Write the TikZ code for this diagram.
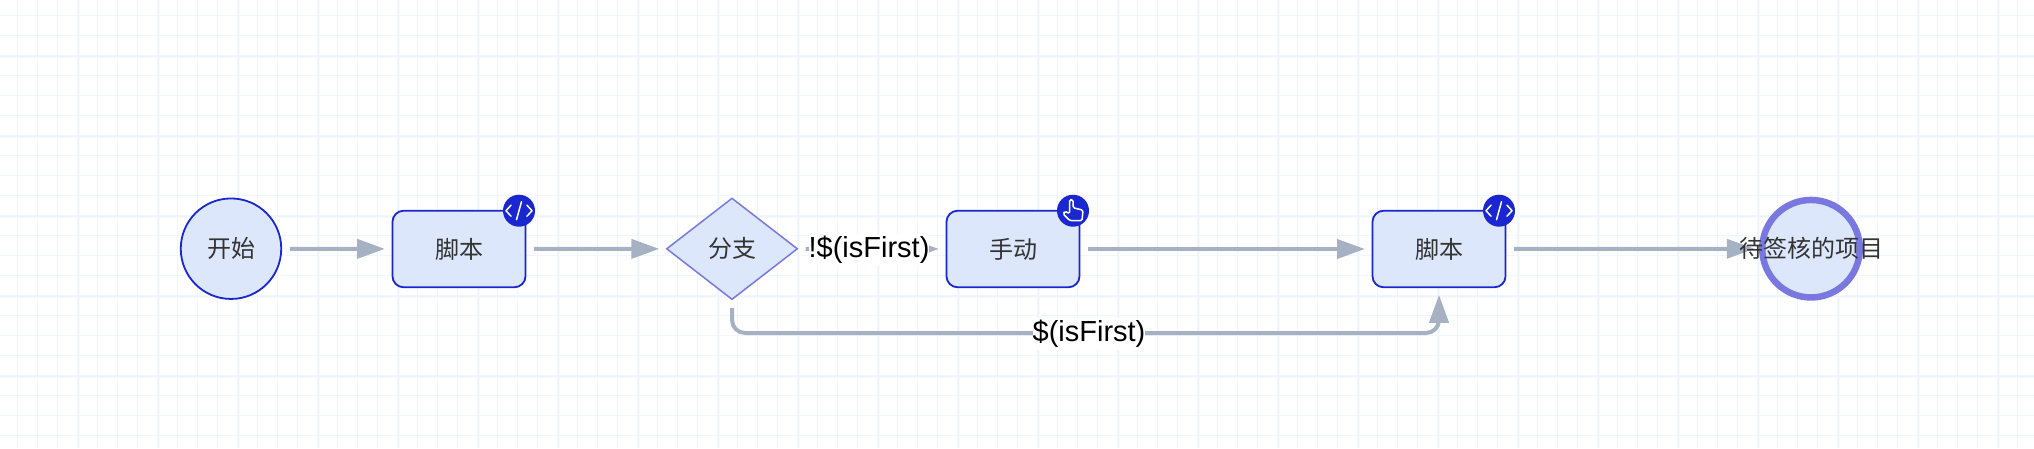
\documentclass[tikz,border=0pt]{standalone}
\usepackage{fontspec}
\setmainfont{Liberation Sans}
\newfontfamily\cjk{Noto Sans CJK SC}
\usetikzlibrary{arrows.meta,shapes.geometric}
\definecolor{nodefill}{HTML}{DCE7FB}
\definecolor{nodeline}{HTML}{1A26D0}
\definecolor{softline}{HTML}{7878E0}
\definecolor{edgeline}{HTML}{A6B2C4}
\definecolor{gridminor}{HTML}{EFF6FC}
\definecolor{gridmajor}{HTML}{EEF4F9}
\definecolor{gridband}{HTML}{F8F9FB}
\definecolor{nodetext}{HTML}{333333}
\tikzset{
  cjktext/.style={font=\cjk\fontsize{24}{28}\selectfont, text=nodetext},
  startnode/.style={circle, cjktext, draw=nodeline, line width=1.8pt, fill=nodefill, minimum size=100.5pt, inner sep=0pt, outer sep=0pt},
  endnode/.style={circle, cjktext, draw=softline, line width=6.5pt, fill=nodefill, minimum size=97.5pt, inner sep=0pt, outer sep=0pt},
  task/.style={rectangle, cjktext, draw=nodeline, line width=1.8pt, fill=nodefill, rounded corners=11pt, minimum width=133pt, minimum height=76.5pt, inner sep=0pt, outer sep=0pt},
  branch/.style={diamond, cjktext, draw=softline, line width=1.5pt, fill=nodefill, aspect=1.3, minimum width=130.5pt, minimum height=101pt, inner sep=0pt, outer sep=0pt},
  badge/.style={circle, fill=nodeline, minimum size=32pt, inner sep=0pt},
  icon/.style={draw=white, line width=1.5pt, line cap=round, line join=round},
  edge/.style={draw=edgeline, line width=4pt, -{Triangle[length=28pt,width=19pt]}, shorten <=8.5pt, shorten >=7.5pt},
  guard/.style={fill=white, inner sep=0pt, minimum height=32pt, font=\fontsize{29}{32}\selectfont, text=black}
}
\begin{document}
\begin{tikzpicture}[x=1pt, y=-1pt]
  \useasboundingbox (0,0) rectangle (2034,448);
  % background grid
  \foreach \gx in {17.5,37.5,...,2034} { \draw[gridminor, line width=1.1pt] (\gx,0) -- (\gx,448); }
  \foreach \gy in {15.5,35.5,...,448} { \draw[gridminor, line width=1.1pt] (0,\gy) -- (2034,\gy); }
  \foreach \gx in {78,158,...,2034} {
    \draw[gridband, line width=2.5pt] (\gx+1,0) -- (\gx+1,448);
    \draw[gridmajor, line width=1pt] (\gx,0) -- (\gx,448);
  }
  \foreach \gy in {56,136,...,448} {
    \draw[gridband, line width=2.5pt] (0,\gy+1) -- (2034,\gy+1);
    \draw[gridmajor, line width=1pt] (0,\gy) -- (2034,\gy);
  }

  \node at (231, 248.7) [startnode] (start) {开始};
  \node at (459, 249) [task] (scripta) {脚本};
  \node at (732, 248.8) [branch] (switch) {分支};
  \node at (1013, 249) [task] (manual) {手动};
  \node at (1439, 249) [task] (scriptb) {脚本};
  \node at (1811, 248.7) [endnode] (finish) {\phantom{待}};

  % connectors
  \draw[edge] (start) -- (scripta);
  \draw[edge] (scripta) -- (switch);
  \draw[edge] (switch) -- (manual);
  \draw[edge] (manual) -- (scriptb);
  \draw[edge] (scriptb) -- (finish);
  \draw[edge, rounded corners=13pt] (switch.south) -- ++(0,33.7) -| (scriptb.south);

  \node at (869, 250.2) [guard] (notfirst) {!\$(isFirst)};
  \node at (1089, 333.9) [guard] (isfirst) {\$(isFirst)};
  \node at (finish.center) [cjktext] (finishtext) {待签核的项目};

  % badges
  \foreach \nm / \bx in {scripta/519, manual/1073, scriptb/1499} {
    \node at (\bx, 210.7) [badge] (badge\nm) {};
  }
  \foreach \nm in {scripta, scriptb} {
    \draw[icon] ([shift={(-8,-5.5)}]badge\nm.center) -- ++(-5,5.5) -- ++(5,5.5);
    \draw[icon] ([shift={(8,-5.5)}]badge\nm.center) -- ++(5,5.5) -- ++(-5,5.5);
    \draw[icon] ([shift={(2.5,-9)}]badge\nm.center) -- ++(-5,18);
  }
  \draw[icon, rounded corners=1.5pt] ([shift={(-3.5,3)}]badgemanual.center) -- ++(0,-14) -- ++(3.5,0) -- ++(0,8) -- ++(10,2.5) -- ++(-1,10.5) -- ++(-12,0) -- ++(-7,-7) -- ++(2,-2.5) -- cycle;
\end{tikzpicture}
\end{document}
